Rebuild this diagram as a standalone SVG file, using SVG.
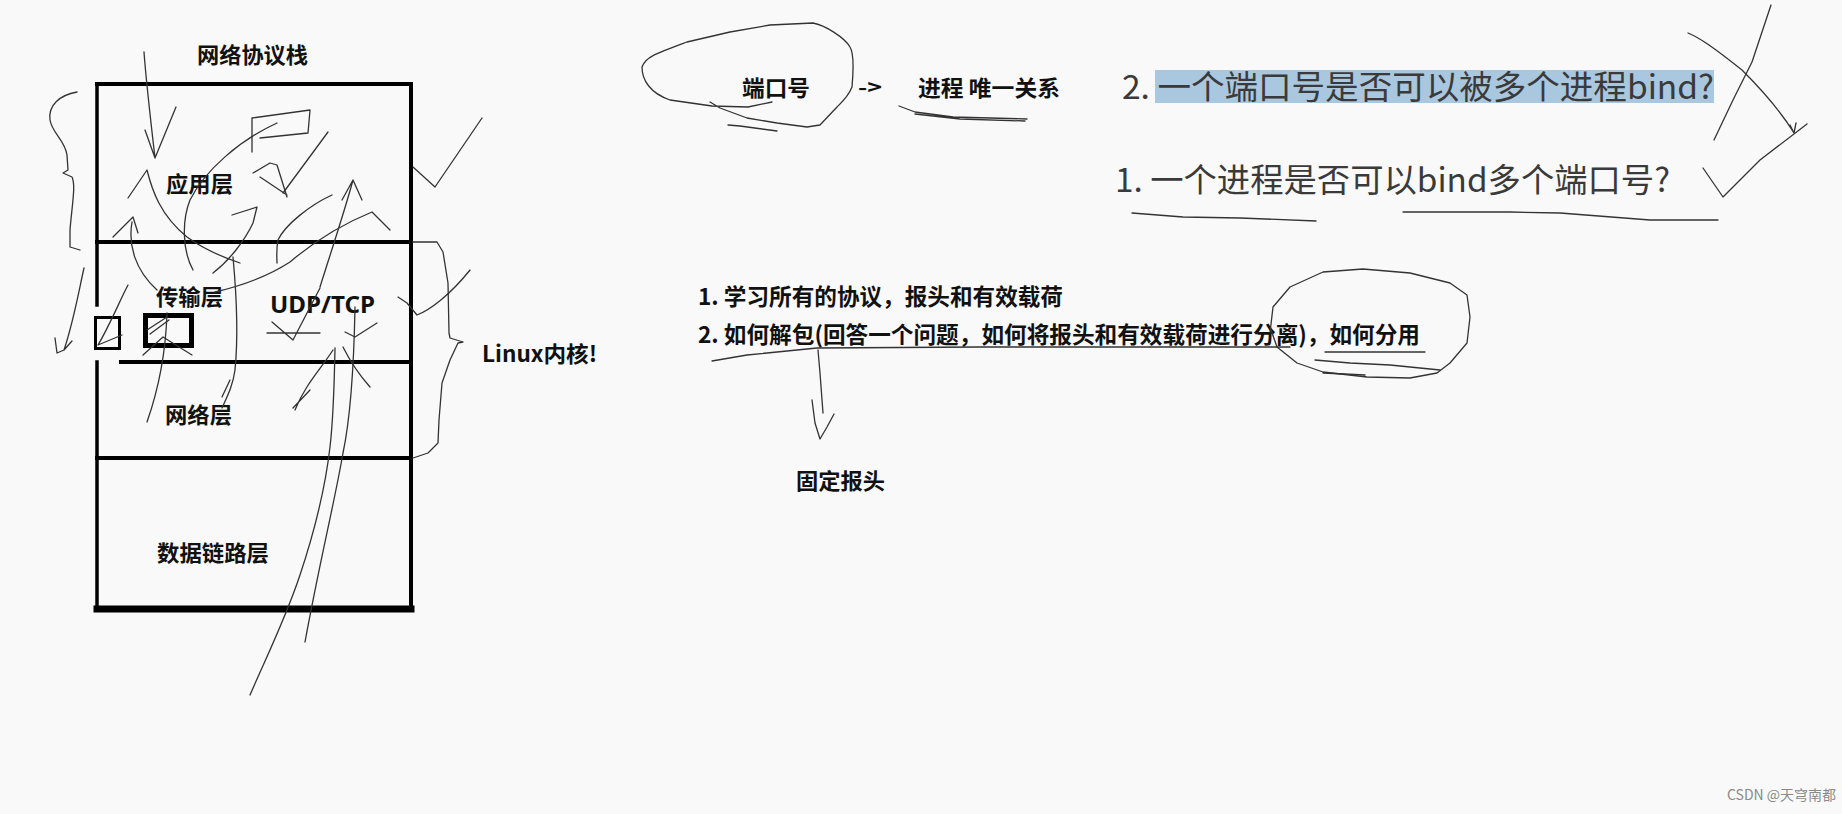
<svg xmlns="http://www.w3.org/2000/svg" width="1842" height="814" viewBox="0 0 1842 814">
<style>
.bg{fill:#f9f9f9}
.box{stroke:#000;fill:none;stroke-linecap:square}
.b{font-family:"Noto Sans CJK SC","Noto Sans",sans-serif;font-weight:700;fill:#111}
.q{font-family:"Noto Sans CJK SC","Noto Sans",sans-serif;font-weight:400;fill:#3a3a3a}
.ink{fill:none;stroke:#333;stroke-width:1.3;stroke-linecap:round;stroke-linejoin:round}
.wm{font-family:"Noto Sans CJK SC","Noto Sans",sans-serif;fill:#8a8a8a;font-size:14px}
</style>
<rect class="bg" x="0" y="0" width="1842" height="814"/>

<g id="stack">
  <line class="box" x1="97" y1="84" x2="411" y2="84" stroke-width="4"/>
  <line class="box" x1="97" y1="84" x2="97" y2="305" stroke-width="3.5"/>
  <line class="box" x1="97" y1="362" x2="97" y2="610" stroke-width="3.5"/>
  <line class="box" x1="411" y1="84" x2="411" y2="610" stroke-width="4"/>
  <line class="box" x1="97" y1="242" x2="411" y2="242" stroke-width="4"/>
  <line class="box" x1="121" y1="362" x2="411" y2="362" stroke-width="4"/>
  <line class="box" x1="97" y1="458" x2="411" y2="458" stroke-width="4"/>
  <line class="box" x1="97" y1="609" x2="411" y2="609" stroke-width="7"/>
  <rect class="box" x="95.5" y="317.5" width="24" height="31" stroke-width="3"/>
  <rect class="box" x="145.5" y="315.5" width="46" height="30" stroke-width="5"/>
</g>

<g id="title"><text class="b" x="252.5" y="63" font-size="22" text-anchor="middle" textLength="111" lengthAdjust="spacingAndGlyphs">网络协议栈</text></g>
<g id="app"><text class="b" x="199.5" y="192" font-size="22" text-anchor="middle" textLength="67" lengthAdjust="spacingAndGlyphs">应用层</text></g>
<g id="transport"><text class="b" x="189.5" y="305" font-size="22" text-anchor="middle" textLength="67" lengthAdjust="spacingAndGlyphs">传输层</text>
<text class="b" x="322.5" y="313" font-size="24" text-anchor="middle" textLength="105" lengthAdjust="spacingAndGlyphs" style="font-family:'Noto Sans',sans-serif">UDP/TCP</text></g>
<g id="network"><text class="b" x="198.5" y="423" font-size="22" text-anchor="middle" textLength="67" lengthAdjust="spacingAndGlyphs">网络层</text></g>
<g id="datalink"><text class="b" x="213" y="561" font-size="22" text-anchor="middle" textLength="112" lengthAdjust="spacingAndGlyphs">数据链路层</text></g>
<g id="kernel"><text class="b" x="482" y="362" font-size="22" textLength="115" lengthAdjust="spacingAndGlyphs">Linux内核!</text></g>

<g id="port"><text class="b" x="742" y="96" font-size="22" textLength="68" lengthAdjust="spacingAndGlyphs">端口号</text></g>
<g id="arrowtxt"><text class="b" x="858" y="95" font-size="20" textLength="24" lengthAdjust="spacingAndGlyphs">-&gt;</text></g>
<g id="process"><text class="b" x="918" y="96" font-size="22" textLength="142" lengthAdjust="spacingAndGlyphs">进程 唯一关系</text></g>

<g id="q2">
  <rect x="1155" y="70" width="559" height="33" fill="#a9c7df"/>
  <text class="q" x="1122" y="99" font-size="33" textLength="592" lengthAdjust="spacingAndGlyphs">2. 一个端口号是否可以被多个进程bind?</text>
</g>
<g id="q1"><text class="q" x="1115" y="192" font-size="33" textLength="555" lengthAdjust="spacingAndGlyphs">1. 一个进程是否可以bind多个端口号?</text></g>

<g id="p1"><text class="b" x="698" y="305" font-size="23" textLength="365" lengthAdjust="spacingAndGlyphs">1. 学习所有的协议，报头和有效载荷</text></g>
<g id="p2"><text class="b" x="698" y="343" font-size="23" textLength="722" lengthAdjust="spacingAndGlyphs">2. 如何解包(回答一个问题，如何将报头和有效载荷进行分离)，如何分用</text></g>
<g id="fixed"><text class="b" x="796" y="489" font-size="22" textLength="89" lengthAdjust="spacingAndGlyphs">固定报头</text></g>

<g id="connectors">
  <path class="ink" d="M77,92 C60,95 48,105 50,120 C52,133 65,140 67,155 L68,170 L63,173 L72,177 C76,185 72,205 70,230 L70,247 L80,250"/>
  <path class="ink" d="M84,268 C79,290 74,320 64,350 L57,353 L55,338 M64,350 L72,341"/>
  <path class="ink" d="M144,52 C146,80 150,115 155,158 M145,130 L155,158 L176,107"/>
  <path class="ink" d="M128,198 L147,170 C152,190 160,215 187,237 C205,250 225,258 240,263"/>
  <path class="ink" d="M252,152 L252,118 L310,110 L308,133 L260,138"/>
  <path class="ink" d="M277,123 C240,140 205,170 190,200 C182,220 182,250 193,270"/>
  <path class="ink" d="M328,132 L300,170 L283,193"/>
  <path class="ink" d="M253,173 L270,163 L277,165 L287,197 M260,177 L287,195"/>
  <path class="ink" d="M320,287 C330,255 345,210 353,180 M342,200 L353,180 L362,200"/>
  <path class="ink" d="M332,195 C310,205 285,225 278,240 C276,250 277,258 277,263"/>
  <path class="ink" d="M390,230 L372,212 C340,225 310,245 290,262 C270,275 245,285 215,292"/>
  <path class="ink" d="M232,215 L257,207 L253,223 C245,240 230,260 213,273"/>
  <path class="ink" d="M113,237 L133,217 L138,233"/>
  <path class="ink" d="M132,222 C128,245 135,270 157,290"/>
  <path class="ink" d="M128,285 C120,300 110,325 98,345 L122,335"/>
  <path class="ink" d="M147,330 L167,317 M150,334 L169,320 M143,355 L163,337 L192,355"/>
  <path class="ink" d="M167,313 C166,345 160,385 147,422"/>
  <path class="ink" d="M233,257 C237,300 238,340 235,370 C233,385 228,395 222,408"/>
  <path class="ink" d="M272,322 L293,340 L320,288 M267,333 L320,333"/>
  <path class="ink" d="M345,332 L355,337 L377,323"/>
  <path class="ink" d="M398,297 L407,303 L417,315 C430,310 450,295 470,270"/>
  <path class="ink" d="M413,167 L435,187 L482,118"/>
  <path class="ink" d="M413,242 L437,242 L443,252 L448,283 L449,333 L450,338 L463,342 L458,343 L450,360 L442,383 L439,420 L438,443 L428,453 L413,458"/>
  <path class="ink" d="M355,307 C354,360 350,420 343,453 C335,500 320,560 305,642"/>
  <path class="ink" d="M335,348 C334,400 332,430 330,447 C325,490 315,530 300,575 C285,620 265,660 250,695"/>
  <path class="ink" d="M333,350 C320,370 305,385 295,410 M310,390 L293,408"/>
  <path class="ink" d="M343,347 C352,365 362,378 370,387"/>
  <path class="ink" d="M230,380 L222,397"/>
  <path class="ink" d="M772,102 L748,107 L712,106 L670,100 C650,93 642,80 642,67 C645,57 657,53 687,42 L730,32 L770,25 L813,23 C825,25 845,38 850,47 C855,55 853,75 852,87 C848,97 842,102 837,107 L820,125 L807,127 L777,123 L747,118 L720,108 L710,102"/>
  <path class="ink" d="M728,125 L740,126 L777,131"/>
  <path class="ink" d="M899,106 L915,112 L953,117 L1027,119 M915,114 L960,119 L1025,121"/>
  <path class="ink" d="M1132,213 L1183,217 L1240,218 L1316,221"/>
  <path class="ink" d="M1403,212 L1510,212 L1560,213 L1650,220 L1718,220"/>
  <path class="ink" d="M1771,5 L1752,62 L1733,100 L1714,140"/>
  <path class="ink" d="M1688,33 C1700,38 1713,47 1742,70 C1760,88 1780,110 1794,133 M1790,125 L1794,133 L1796,123"/>
  <path class="ink" d="M1703,168 L1723,197 L1760,160 L1807,124"/>
  <path class="ink" d="M712,361 L747,355 L817,348 L980,347 L1290,347"/>
  <path class="ink" d="M1325,352 L1425,352"/>
  <path class="ink" d="M1270,333 L1273,307 L1290,287 L1323,272 L1363,269 L1410,273 L1450,283 L1467,295 L1470,317 L1467,343 L1450,363 L1437,373 L1410,378 L1367,377 L1323,372 L1297,363 L1277,347 L1270,327"/>
  <path class="ink" d="M1315,360 L1350,363 L1390,365 L1440,370 M1323,373 L1365,375"/>
  <path class="ink" d="M818,350 L820,373 L823,413 M812,400 L815,423 L820,439 L827,427 L834,414"/>
</g>

<g id="watermark"><text class="wm" x="1727" y="800">CSDN @天穹南都</text></g>
</svg>
